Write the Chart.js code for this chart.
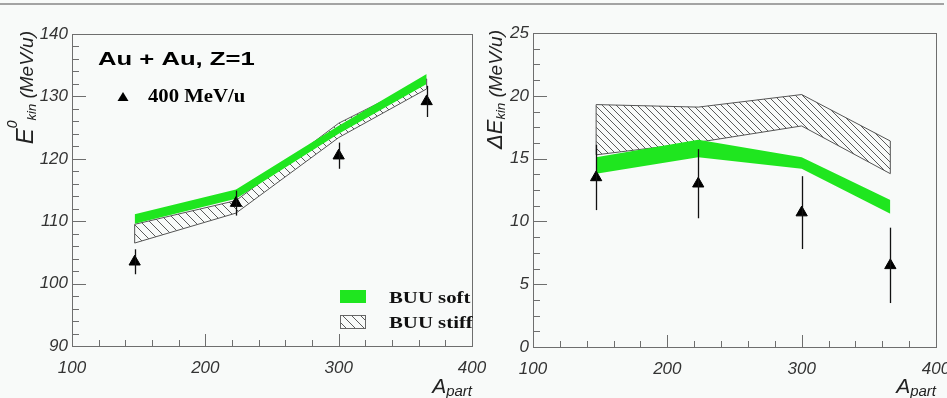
<!DOCTYPE html>
<html>
<head>
<meta charset="utf-8">
<script src="https://cdn.jsdelivr.net/npm/chart.js@4.4.0/dist/chart.umd.min.js"></script>
<style>
  html, body { margin: 0; padding: 0; background: #f8faf9; }
  #wrap { position: relative; width: 947px; height: 398px; overflow: hidden; }
  #rule { position: absolute; left: 0; top: 3px; width: 944px; border-top: 2px solid #a3a3a3; }
  canvas { position: absolute; left: 0; top: 0; }
</style>
</head>
<body>
<div id="wrap">
  <div id="rule"></div>
  <canvas id="meanChart" width="947" height="398"></canvas>
  <canvas id="widthChart" width="947" height="398"></canvas>
</div>
<script>
// number of participants for the four centrality bins
const apart = [147, 223, 300, 366];

// mean kinetic energy E0_kin (MeV/u)
const meanData = [103.5, 112.9, 120.5, 129.2];
const meanErr = [2.0, 2.0, 2.1, 2.5];
const meanSoftLow = [109.6, 113.6, 124.0, 132.0];
const meanSoftHigh = [111.1, 115.1, 125.3, 133.6];
const meanStiffLow = [106.5, 111.3, 123.4, 131.2];
const meanStiffHigh = [109.5, 113.3, 125.7, 132.8];

// width of the kinetic energy distribution, dE_kin (MeV/u)
const widthData = [13.5, 13.0, 10.7, 6.5];
const widthErr = [2.6, 2.75, 2.9, 3.0];
const widthSoftLow = [13.8, 15.1, 14.2, 10.6];
const widthSoftHigh = [15.1, 16.5, 15.1, 11.7];
const widthStiffLow = [15.3, 16.3, 17.6, 13.8];
const widthStiffHigh = [19.3, 19.1, 20.1, 16.4];

const green = '#1fe61f';
const SANS = 'Liberation Sans';
const SERIF = 'Liberation Serif';
const tickFont = { family: SANS, style: 'italic', size: 17 };

function pts(vals) {
  return vals.map((v, i) => ({ x: apart[i], y: v }));
}

// "\\\" hatching used for the stiff band
function hatch(step) {
  const c = document.createElement('canvas');
  c.width = step; c.height = step;
  const g = c.getContext('2d');
  g.strokeStyle = '#5a5a5a';
  g.lineWidth = 1;
  g.beginPath();
  g.moveTo(0, 0); g.lineTo(step, step);
  g.moveTo(-2, step - 2); g.lineTo(2, step + 2);
  g.moveTo(step - 2, -2); g.lineTo(step + 2, 2);
  g.stroke();
  return g.createPattern(c, 'repeat');
}

function wideText(ctx, str, x, y, font, sx) {
  ctx.save();
  ctx.font = font;
  ctx.translate(x, y);
  ctx.scale(sx, 1);
  ctx.fillText(str, 0, 0);
  ctx.restore();
}

// right-aligned text with sub/superscripts, optionally rotated upwards
function richText(ctx, parts, x, y, rotate) {
  ctx.save();
  ctx.translate(x, y);
  if (rotate) ctx.rotate(-Math.PI / 2);
  let w = 0;
  parts.forEach(p => { ctx.font = p.font; w += ctx.measureText(p.text).width; });
  let cx = -w;
  parts.forEach(p => {
    ctx.font = p.font;
    ctx.fillText(p.text, cx, p.dy || 0);
    cx += ctx.measureText(p.text).width;
  });
  ctx.restore();
}

const panel = {
  id: 'panel',
  afterDatasetsDraw(chart, args, o) {
    const { ctx, scales: { x, y } } = chart;
    ctx.save();
    // closing edges of the hatched band
    ctx.strokeStyle = '#555';
    ctx.lineWidth = 1;
    [0, apart.length - 1].forEach(i => {
      const px = x.getPixelForValue(apart[i]);
      ctx.beginPath();
      ctx.moveTo(px, y.getPixelForValue(o.stiffLow[i]));
      ctx.lineTo(px, y.getPixelForValue(o.stiffHigh[i]));
      ctx.stroke();
    });
    // error bars
    ctx.strokeStyle = '#111';
    ctx.lineWidth = 1.3;
    o.values.forEach((v, i) => {
      const px = Math.round(x.getPixelForValue(apart[i])) + 0.5;
      ctx.beginPath();
      ctx.moveTo(px, y.getPixelForValue(v + o.errors[i]));
      ctx.lineTo(px, y.getPixelForValue(v - o.errors[i]));
      ctx.stroke();
    });
    ctx.restore();
  },
  afterDraw(chart, args, o) {
    const { ctx, chartArea: a, scales: { x, y } } = chart;
    ctx.save();
    ctx.strokeStyle = '#6e6e6e';
    ctx.lineWidth = 1;
    ctx.strokeRect(Math.round(a.left) + 0.5, Math.round(a.top) + 0.5,
      Math.round(a.right - a.left), Math.round(a.bottom - a.top));

    // ticks pointing into the frame, with minor divisions
    ctx.beginPath();
    const nx = Math.round((x.max - x.min) / o.xMinor);
    for (let k = 0; k <= nx; k++) {
      const px = Math.round(x.getPixelForValue(x.min + k * o.xMinor)) + 0.5;
      const len = k % o.xPer === 0 ? 12 : 6;
      ctx.moveTo(px, a.bottom);
      ctx.lineTo(px, a.bottom - len);
    }
    const ny = Math.round((y.max - y.min) / o.yMinor);
    for (let k = 0; k <= ny; k++) {
      const py = Math.round(y.getPixelForValue(y.min + k * o.yMinor)) + 0.5;
      const len = k % o.yPer === 0 ? 14 : 7;
      ctx.moveTo(a.left, py);
      ctx.lineTo(a.left + len, py);
    }
    ctx.stroke();

    // axis titles
    ctx.fillStyle = '#222';
    ctx.textBaseline = 'alphabetic';
    richText(ctx, o.yTitle, o.yTitleX, a.top - 3, true);
    richText(ctx, [
      { text: 'A', font: 'italic 21px ' + SANS },
      { text: 'part', font: 'italic 15px ' + SANS, dy: 3 }
    ], a.right, 393, false);

    if (o.annotate) o.annotate(ctx, chart);
    ctx.restore();
  }
};

function panelChart(id, cfg) {
  return new Chart(document.getElementById(id), {
    type: 'line',
    data: {
      datasets: [
        { data: pts(cfg.stiffLow), borderColor: '#555', borderWidth: 1, pointRadius: 0, fill: false, order: 3 },
        { data: pts(cfg.stiffHigh), borderColor: '#555', borderWidth: 1, pointRadius: 0,
          fill: 0, backgroundColor: hatch(cfg.hatchStep), order: 3 },
        { data: pts(cfg.softLow), borderColor: 'rgba(0,0,0,0)', borderWidth: 1, pointRadius: 0, fill: false, order: 2 },
        { data: pts(cfg.softHigh), borderColor: 'rgba(0,0,0,0)', borderWidth: 1, pointRadius: 0,
          fill: 2, backgroundColor: green, order: 2 },
        { type: 'scatter', data: pts(cfg.values), pointStyle: 'triangle', pointRadius: 6.5,
          backgroundColor: '#000', borderColor: '#000', borderWidth: 1, order: 1 }
      ]
    },
    options: {
      responsive: false,
      animation: false,
      events: [],
      layout: { autoPadding: false, padding: { left: cfg.padLeft, right: cfg.padRight, top: cfg.padTop, bottom: 0 } },
      scales: {
        x: {
          type: 'linear', min: 100, max: 400,
          grid: { display: false, drawTicks: false },
          border: { display: false },
          ticks: { stepSize: 100, padding: 12, color: '#333', font: tickFont, maxRotation: 0, autoSkip: false },
          afterFit(s) {
            s.height = cfg.xAxisHeight;
            s.paddingLeft = 0;
            s.paddingRight = 0;
          }
        },
        y: {
          min: cfg.yMin, max: cfg.yMax,
          grid: { display: false, drawTicks: false },
          border: { display: false },
          ticks: { stepSize: cfg.yStep, padding: 4, color: '#333', font: tickFont, autoSkip: false },
          afterFit(s) {
            s.width = cfg.yAxisWidth;
            s.paddingTop = 0;
            s.paddingBottom = 0;
          }
        }
      },
      plugins: {
        legend: { display: false },
        tooltip: { enabled: false },
        panel: {
          values: cfg.values, errors: cfg.errors,
          stiffLow: cfg.stiffLow, stiffHigh: cfg.stiffHigh,
          xMinor: 20, xPer: 5, yMinor: cfg.yMinor, yPer: cfg.yPer,
          yTitle: cfg.yTitle, yTitleX: cfg.yTitleX, annotate: cfg.annotate
        }
      }
    },
    plugins: [panel]
  });
}

panelChart('meanChart', {
  values: meanData, errors: meanErr,
  softLow: meanSoftLow, softHigh: meanSoftHigh,
  stiffLow: meanStiffLow, stiffHigh: meanStiffHigh,
  hatchStep: 9,
  yMin: 90, yMax: 140, yStep: 10, yMinor: 2, yPer: 5,
  padLeft: 0, padRight: 475, padTop: 34, yAxisWidth: 72, xAxisHeight: 52,
  yTitleX: 33,
  yTitle: [
    { text: 'E', font: 'italic 24px ' + SANS },
    { text: '0', font: 'italic 14px ' + SANS, dy: -16 },
    { text: 'kin', font: 'italic 13px ' + SANS, dy: 3 },
    { text: ' (MeV/u)', font: 'italic 19px ' + SANS }
  ],
  annotate(ctx) {
    ctx.fillStyle = '#000';
    wideText(ctx, 'Au + Au, Z=1', 98, 65, 'bold 19px ' + SANS, 1.35);
    // data marker key
    ctx.beginPath();
    ctx.moveTo(123, 92); ctx.lineTo(128.5, 101); ctx.lineTo(117.5, 101);
    ctx.closePath();
    ctx.fill();
    wideText(ctx, '400 MeV/u', 148, 102, 'bold 18px ' + SERIF, 1.15);
    // band key
    ctx.fillStyle = green;
    ctx.fillRect(340, 290, 26, 13);
    ctx.fillStyle = hatch(9);
    ctx.fillRect(340, 315, 26, 14);
    ctx.strokeStyle = '#666';
    ctx.strokeRect(340.5, 315.5, 25, 13);
    ctx.fillStyle = '#111';
    wideText(ctx, 'BUU soft', 389, 303, 'bold 16px ' + SERIF, 1.3);
    wideText(ctx, 'BUU stiff', 389, 328, 'bold 16px ' + SERIF, 1.3);
  }
});

panelChart('widthChart', {
  values: widthData, errors: widthErr,
  softLow: widthSoftLow, softHigh: widthSoftHigh,
  stiffLow: widthStiffLow, stiffHigh: widthStiffHigh,
  hatchStep: 7,
  yMin: 0, yMax: 25, yStep: 5, yMinor: 1.25, yPer: 4,
  padLeft: 470, padRight: 11, padTop: 33, yAxisWidth: 63, xAxisHeight: 51,
  yTitleX: 502,
  yTitle: [
    { text: '\u0394E', font: 'italic 22px ' + SANS },
    { text: 'kin', font: 'italic 13px ' + SANS, dy: 3 },
    { text: ' (MeV/u)', font: 'italic 19px ' + SANS }
  ]
});
</script>
</body>
</html>
